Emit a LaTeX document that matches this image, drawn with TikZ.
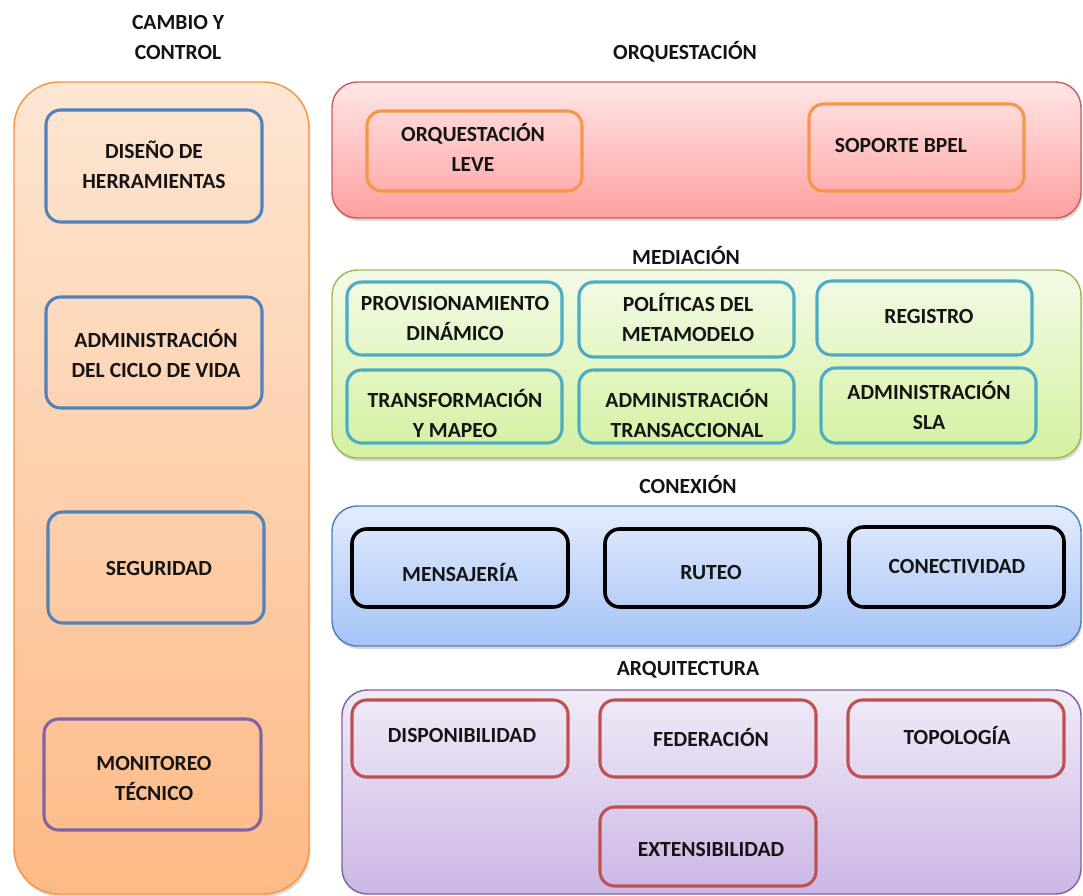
\documentclass[tikz,border=0pt]{standalone}
\usepackage{fontspec}
\setmainfont{Carlito}
\usetikzlibrary{shadows}

\definecolor{txtc}{HTML}{141414}
\definecolor{orgB}{HTML}{F79646}
\definecolor{bluB}{HTML}{4F81BD}
\definecolor{purB}{HTML}{8064A2}
\definecolor{redB}{HTML}{C0504D}
\definecolor{grnB}{HTML}{9BBB59}
\definecolor{teaB}{HTML}{4BACC6}
% panel gradients
\definecolor{orgT}{HTML}{FDE6D3}
\definecolor{orgD}{HTML}{FDBA86}
\definecolor{redT}{HTML}{FFE6E6}
\definecolor{redD}{HTML}{FFA0A0}
\definecolor{grnT}{HTML}{F2FBE6}
\definecolor{grnD}{HTML}{D4F0A0}
\definecolor{bluT}{HTML}{E3ECFC}
\definecolor{bluD}{HTML}{A5C3F6}
\definecolor{purT}{HTML}{F1EBF8}
\definecolor{purD}{HTML}{CBB6E5}

% rectangle node from corner coordinates (x1,y1)-(x2,y2) in pixel units
\newcommand\boxat[6]{%
  \pgfmathsetmacro\bw{(#5-#3)*0.75}%
  \pgfmathsetmacro\bh{(#6-#4)*0.75}%
  \node[#2, minimum width=\bw pt, minimum height=\bh pt] (#1) at ({(#3+#5)/2},{(#4+#6)/2}) {};%
}
% box plus its caption
\newcommand\itembox[9]{%
  \boxat{#1}{#2}{#3}{#4}{#5}{#6}%
  \node[txt] (#1-t) at (#7,#8) {#9};%
}

\tikzset{
  txt/.style={font=\bfseries\fontsize{16.2}{22.5}\selectfont, text=txtc, align=center, inner sep=0pt},
  panel/.style={rectangle, rounded corners=19pt, inner sep=0pt, outer sep=0pt, line width=1.1pt},
  shade/.style={drop shadow={opacity=0.3, shadow xshift=1pt, shadow yshift=-2.2pt}},
  item/.style={rectangle, rounded corners=11pt, inner sep=0pt, outer sep=0pt, line width=2.3pt},
  leftpanel/.style={panel, shade, rounded corners=34pt, draw=orgB, top color=orgT, bottom color=orgD},
  redpanel/.style={panel, shade, draw=redB!90, top color=redT, bottom color=redD},
  grnpanel/.style={panel, shade, draw=grnB, top color=grnT, bottom color=grnD},
  blupanel/.style={panel, shade, draw=bluB, top color=bluT, bottom color=bluD},
  purpanel/.style={panel, draw=purB, top color=purT, bottom color=purD},
}

\begin{document}
\begin{tikzpicture}[x=0.75pt, y=-0.75pt]
\useasboundingbox (0,0) rectangle (1083,896);

% ---- Cambio y control column ----
\node[txt] (tcc) at (178,37) {CAMBIO Y\\CONTROL};
\boxat{cc}{leftpanel}{14}{82}{309}{894}
\itembox{dis}{item, draw=bluB}{46}{110}{262}{222}{154}{165}{DISEÑO DE\\HERRAMIENTAS}
\itembox{adm}{item, draw=bluB}{46}{297}{262}{408}{156}{353}{ADMINISTRACIÓN\\DEL CICLO DE VIDA}
\itembox{seg}{item, draw=bluB}{48}{512}{264}{623}{159}{568}{SEGURIDAD}
\itembox{mon}{item, draw=purB}{44}{719}{261}{830}{154}{778}{MONITOREO\\TÉCNICO}

% ---- Orquestacion ----
\node[txt] (torq) at (685,52) {ORQUESTACIÓN};
\boxat{orq}{redpanel}{332}{82}{1081}{218}
\itembox{lev}{item, draw=orgB}{367}{111}{582}{191}{473}{147}{ORQUESTACIÓN\\LEVE}
\itembox{bpel}{item, draw=orgB}{809}{104}{1024}{191}{901}{145}{SOPORTE BPEL}

% ---- Mediacion ----
\node[txt] (tmed) at (686,256) {MEDIACIÓN};
\boxat{med}{grnpanel}{332}{270}{1081}{458}
\itembox{prov}{item, draw=teaB}{347}{282}{562}{355}{455}{318}{PROVISIONAMIENTO\\DINÁMICO}
\itembox{pol}{item, draw=teaB}{579}{282}{794}{357}{688}{318}{POLÍTICAS DEL\\METAMODELO}
\itembox{reg}{item, draw=teaB}{817}{281}{1032}{355}{929}{316}{REGISTRO}
\itembox{trf}{item, draw=teaB}{347}{370}{562}{443}{455}{413}{TRANSFORMACIÓN\\Y MAPEO}
\itembox{tra}{item, draw=teaB}{579}{370}{794}{443}{687}{413}{ADMINISTRACIÓN\\TRANSACCIONAL}
\itembox{sla}{item, draw=teaB}{821}{368}{1036}{443}{929}{405}{ADMINISTRACIÓN\\SLA}

% ---- Conexion ----
\node[txt] (tcon) at (688,484) {CONEXIÓN};
\boxat{con}{blupanel}{332}{506}{1081}{646}
\itembox{msj}{item, draw=black, line width=2.7pt}{352}{529}{568}{607}{460}{572}{MENSAJERÍA}
\itembox{rut}{item, draw=black, line width=2.7pt}{605}{529}{820}{607}{711}{572}{RUTEO}
\itembox{cnt}{item, draw=black, line width=2.7pt}{849}{527}{1064}{607}{957}{566}{CONECTIVIDAD}

% ---- Arquitectura ----
\node[txt] (tarq) at (688,670) {ARQUITECTURA};
\boxat{arq}{purpanel}{342}{690}{1081}{894}
\itembox{dsp}{item, draw=redB}{352}{700}{568}{777}{462}{735}{DISPONIBILIDAD}
\itembox{fed}{item, draw=redB}{600}{700}{816}{777}{711}{737}{FEDERACIÓN}
\itembox{top}{item, draw=redB}{848}{700}{1064}{777}{957}{735}{TOPOLOGÍA}
\itembox{ext}{item, draw=redB}{600}{807}{816}{886}{711}{849}{EXTENSIBILIDAD}
\end{tikzpicture}
\end{document}
